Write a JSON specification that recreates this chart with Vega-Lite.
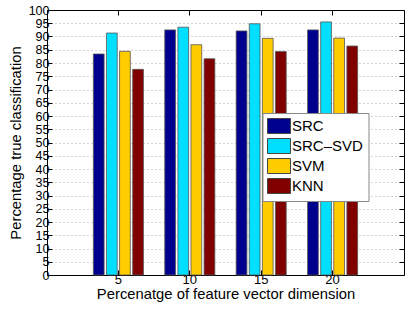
{
  "$schema": "https://vega.github.io/schema/vega-lite/v6.json",
  "width": 357,
  "height": 265,
  "autosize": {"type": "none"},
  "padding": {"left": 47, "top": 10, "right": 11, "bottom": 37},
  "background": "white",
  "config": {
    "font": "Liberation Sans",
    "view": {"stroke": null},
    "axis": {
      "labelColor": "#000",
      "titleColor": "#000",
      "domainColor": "#000",
      "tickColor": "#000",
      "labelFontSize": 13.5,
      "titleFontSize": 14.8,
      "titleFontWeight": "normal"
    }
  },
  "data": {
    "values": [
      {"dim": "5", "method": "SRC", "value": 83.4},
      {"dim": "5", "method": "SRC–SVD", "value": 91.3},
      {"dim": "5", "method": "SVM", "value": 84.4},
      {"dim": "5", "method": "KNN", "value": 77.6},
      {"dim": "10", "method": "SRC", "value": 92.5},
      {"dim": "10", "method": "SRC–SVD", "value": 93.5},
      {"dim": "10", "method": "SVM", "value": 86.9},
      {"dim": "10", "method": "KNN", "value": 81.6},
      {"dim": "15", "method": "SRC", "value": 92.1},
      {"dim": "15", "method": "SRC–SVD", "value": 94.8},
      {"dim": "15", "method": "SVM", "value": 89.3},
      {"dim": "15", "method": "KNN", "value": 84.3},
      {"dim": "20", "method": "SRC", "value": 92.5},
      {"dim": "20", "method": "SRC–SVD", "value": 95.5},
      {"dim": "20", "method": "SVM", "value": 89.4},
      {"dim": "20", "method": "KNN", "value": 86.4}
    ]
  },
  "layer": [
    {
      "mark": {"type": "bar", "stroke": "#555", "strokeWidth": 0.8},
      "encoding": {
        "x": {
          "field": "dim", "type": "ordinal", "sort": ["5", "10", "15", "20"],
          "scale": {"paddingInner": 0.266, "paddingOuter": 0.633},
          "axis": {
            "orient": "bottom", "labelAngle": 0, "tickSize": -5, "labelPadding": 3,
            "labelFontSize": 13,
            "title": "Percenatge of feature vector dimension", "titlePadding": 0
          }
        },
        "xOffset": {
          "field": "method", "type": "nominal", "sort": ["SRC", "SRC–SVD", "SVM", "KNN"],
          "scale": {"paddingInner": 0.18, "paddingOuter": 0.09}
        },
        "y": {
          "field": "value", "type": "quantitative",
          "scale": {"domain": [0, 100], "nice": false},
          "axis": {
            "orient": "left",
            "values": [0,5,10,15,20,25,30,35,40,45,50,55,60,65,70,75,80,85,90,95,100],
            "labelOverlap": false, "labelFontSize": 12.5,
            "tickSize": -5, "labelPadding": 3,
            "grid": true, "gridDash": [1, 3], "gridColor": "#aaa",
            "title": "Percentage true classification", "titlePadding": 5
          }
        },
        "color": {
          "field": "method", "type": "nominal", "sort": ["SRC", "SRC–SVD", "SVM", "KNN"],
          "scale": {"domain": ["SRC", "SRC–SVD", "SVM", "KNN"], "range": ["#00008F", "#00DFFF", "#FFCC00", "#800000"]},
          "legend": {
            "orient": "none", "legendX": 215.5, "legendY": 103, "title": null,
            "fillColor": "white", "strokeColor": "#888", "padding": 5,
            "labelFontSize": 15, "labelColor": "#000", "labelOffset": 5,
            "symbolOffset": 3.5,
            "symbolType": "M-1.53,-1H1.53V1H-1.53Z", "symbolSize": 225,
            "symbolStrokeColor": "#444", "symbolStrokeWidth": 1,
            "rowPadding": 0
          }
        }
      }
    },
    {
      "mark": {"type": "bar", "opacity": 0},
      "encoding": {
        "x": {
          "field": "dim", "type": "ordinal", "sort": ["5", "10", "15", "20"],
          "axis": {"orient": "top", "labels": false, "tickSize": -5, "title": null}
        },
        "xOffset": {"field": "method", "type": "nominal", "sort": ["SRC", "SRC–SVD", "SVM", "KNN"]},
        "y": {
          "field": "value", "type": "quantitative",
          "axis": {
            "orient": "right", "labels": false, "tickSize": -5, "title": null, "grid": false,
            "values": [0,5,10,15,20,25,30,35,40,45,50,55,60,65,70,75,80,85,90,95,100]
          }
        }
      }
    }
  ]
}
